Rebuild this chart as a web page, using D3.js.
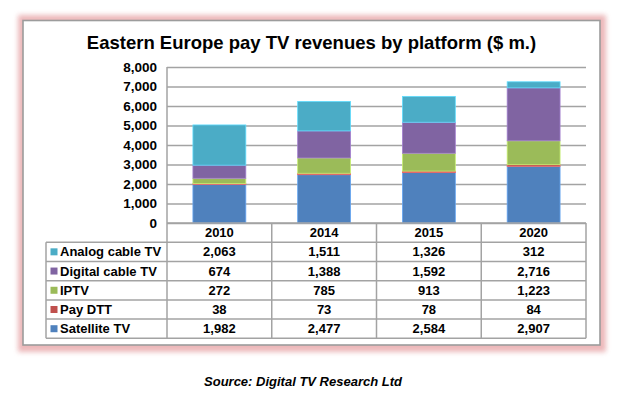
<!DOCTYPE html>
<html>
<head>
<meta charset="utf-8">
<script src="https://cdn.jsdelivr.net/npm/d3@7"></script>
<style>
  html, body { margin: 0; padding: 0; background: #fff; }
  svg { display: block; font-family: "Liberation Sans", Arial, sans-serif; }
</style>
</head>
<body>
<svg id="chart" width="644" height="398"></svg>
<script>
// ---- data ----
const categories = ["2010", "2014", "2015", "2020"];
const seriesNames = ["Analog cable TV", "Digital cable TV", "IPTV", "Pay DTT", "Satellite TV"]; // table order
const analogCable = [2063, 1511, 1326, 312];
const digitalCable = [674, 1388, 1592, 2716];
const iptv = [272, 785, 913, 1223];
const payDTT = [38, 73, 78, 84];
const satellite = [1982, 2477, 2584, 2907];
const yTicks = [0, 1000, 2000, 3000, 4000, 5000, 6000, 7000, 8000];
const titleText = "Eastern Europe pay TV revenues by platform ($ m.)";
const sourceText = "Source: Digital TV Research Ltd";

const seriesValues = {
  "Analog cable TV": analogCable,
  "Digital cable TV": digitalCable,
  "IPTV": iptv,
  "Pay DTT": payDTT,
  "Satellite TV": satellite
};
const colors = {
  "Analog cable TV": "#4bacc6",
  "Digital cable TV": "#8064a2",
  "IPTV": "#9bbb59",
  "Pay DTT": "#c0504d",
  "Satellite TV": "#4f81bd"
};
const stackOrder = ["Satellite TV", "Pay DTT", "IPTV", "Digital cable TV", "Analog cable TV"];

const rows = categories.map((c, i) => {
  const r = { cat: c };
  seriesNames.forEach(s => r[s] = seriesValues[s][i]);
  return r;
});

// ---- layout ----
const svg = d3.select("#chart");
const plotL = 167, plotR = 586, plotT = 67, plotB = 223;
const rowH = 19.22;
const legendL = 46;
const gridColor = "#a3a3a3";

// frame with pink glow
const defs = svg.append("defs");
const f = defs.append("filter").attr("id", "glow").attr("x", "-10%").attr("y", "-10%").attr("width", "120%").attr("height", "120%");
f.append("feGaussianBlur").attr("stdDeviation", 2.6);
svg.append("rect").attr("x", 18).attr("y", 15).attr("width", 588).attr("height", 337)
  .attr("fill", "#e7a6a8").attr("opacity", 0.8).attr("filter", "url(#glow)");
svg.append("rect").attr("x", 23).attr("y", 20.5).attr("width", 577).attr("height", 324.5)
  .attr("fill", "#fff").attr("stroke", "#9c9c9c").attr("stroke-width", 1.6);

// title
svg.append("text").attr("x", 311.5).attr("y", 48.5).attr("text-anchor", "middle")
  .attr("font-size", 18.5).attr("font-weight", "bold").attr("fill", "#000").text(titleText);

// scales
const x = d3.scaleBand().domain(categories).range([plotL, plotR]).paddingInner(0).paddingOuter(0);
const y = d3.scaleLinear().domain([0, 8000]).range([plotB, plotT]);

// y axis + gridlines
const yAxis = svg.append("g").attr("transform", `translate(${plotL},0)`)
  .call(d3.axisLeft(y).tickValues(yTicks).tickFormat(d3.format(",")).tickSize(-(plotR - plotL)).tickPadding(10));
yAxis.select(".domain").remove();
yAxis.selectAll(".tick line").attr("stroke", gridColor).attr("stroke-width", 1.5);
yAxis.selectAll(".tick text").attr("font-size", 13.5).attr("font-weight", "bold").attr("fill", "#000")
  .attr("font-family", "Liberation Sans, Arial, sans-serif");

// bars
const stack = d3.stack().keys(stackOrder)(rows);
const barW = x.bandwidth() * 0.505;
svg.append("g").selectAll("g").data(stack).join("g")
  .attr("fill", d => colors[d.key])
  .attr("stroke", d => d3.color(colors[d.key]).brighter(0.7).formatHex())
  .selectAll("rect").data(d => d).join("rect")
  .attr("x", d => x(d.data.cat) + (x.bandwidth() - barW) / 2)
  .attr("width", barW)
  .attr("y", d => y(d[1]))
  .attr("height", d => y(d[0]) - y(d[1]))
  .attr("stroke-width", 0.8);

// table
const tg = svg.append("g");
const tableTop = plotB;
const tableBottom = plotB + rowH * 6;
tg.append("line").attr("x1", plotL).attr("x2", plotL).attr("y1", plotT).attr("y2", tableBottom)
  .attr("stroke", gridColor).attr("stroke-width", 1.5);
categories.forEach((c, i) => {
  const xx = x(c) + x.bandwidth();
  tg.append("line").attr("x1", xx).attr("x2", xx).attr("y1", tableTop).attr("y2", tableBottom)
    .attr("stroke", gridColor).attr("stroke-width", 1.5);
});
tg.append("line").attr("x1", legendL).attr("x2", legendL).attr("y1", tableTop + rowH).attr("y2", tableBottom)
  .attr("stroke", gridColor).attr("stroke-width", 1.5);
tg.append("line").attr("x1", plotL).attr("x2", plotR).attr("y1", tableTop).attr("y2", tableTop)
  .attr("stroke", gridColor).attr("stroke-width", 1.5);
for (let r = 1; r <= 6; r++) {
  const yy = tableTop + rowH * r;
  tg.append("line").attr("x1", legendL).attr("x2", plotR).attr("y1", yy).attr("y2", yy)
    .attr("stroke", gridColor).attr("stroke-width", 1.5);
}
categories.forEach(c => {
  tg.append("text").attr("x", x(c) + x.bandwidth() / 2).attr("y", tableTop + rowH / 2 + 4.6)
    .attr("text-anchor", "middle").attr("font-size", 13).attr("font-weight", "bold").text(c);
});
const fmt = d3.format(",");
seriesNames.forEach((s, ri) => {
  const cy = tableTop + rowH * (ri + 1) + rowH / 2;
  tg.append("rect").attr("x", 50.5).attr("y", cy - 3.5).attr("width", 7).attr("height", 7).attr("fill", colors[s]);
  tg.append("text").attr("x", 60).attr("y", cy + 4.6).attr("font-size", 13).attr("font-weight", "bold").text(s);
  categories.forEach((c, ci) => {
    tg.append("text").attr("x", x(c) + x.bandwidth() / 2).attr("y", cy + 4.6)
      .attr("text-anchor", "middle").attr("font-size", 13).attr("font-weight", "bold")
      .text(fmt(seriesValues[s][ci]));
  });
});

// source
svg.append("text").attr("x", 303).attr("y", 386).attr("text-anchor", "middle")
  .attr("font-size", 13).attr("font-weight", "bold").attr("font-style", "italic").text(sourceText);
</script>
</body>
</html>
